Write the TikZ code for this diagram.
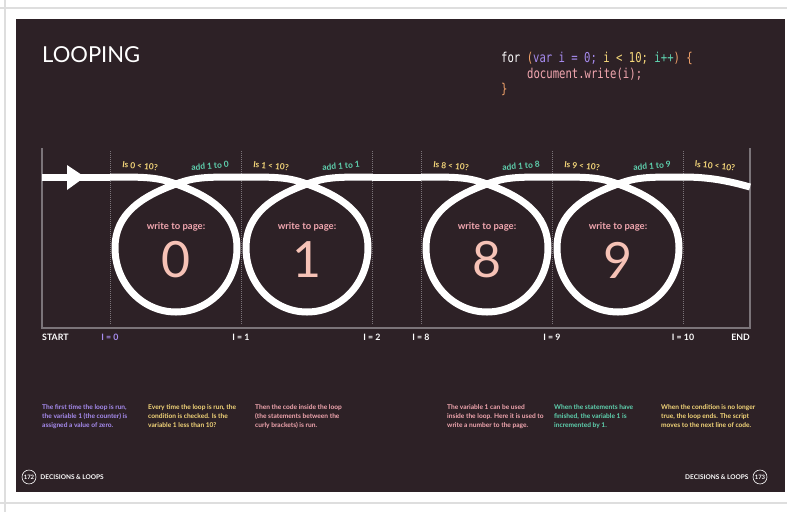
\documentclass[tikz,border=0pt]{standalone}
\usepackage{fontspec}
\setmainfont{Lato}
\setsansfont{Lato}
\setmonofont[FakeStretch=0.78]{DejaVu Sans Mono}
\usepackage{tikz}
\usetikzlibrary{calc}
\usetikzlibrary{positioning}

\definecolor{pagebg}{HTML}{2D2126}
\definecolor{framegray}{HTML}{7B7479}
\definecolor{rulegray}{HTML}{DEDEDE}
\definecolor{lyellow}{HTML}{F5D77A}
\definecolor{lteal}{HTML}{5FD3B0}
\definecolor{lpink}{HTML}{F2A7B0}
\definecolor{lsalmon}{HTML}{F6C2B6}
\definecolor{lpurple}{HTML}{A78CF0}
\definecolor{lorange}{HTML}{F2A36B}

\tikzset{
  looppath/.style={white, line width=7pt},
  tick/.style={framegray, line width=0.9pt, dash pattern=on 1pt off 1pt},
  testlabel/.style={text=lyellow, inner sep=0pt, font=\bfseries\fontsize{8.4}{9}\selectfont},
  addlabel/.style={text=lteal, inner sep=0pt, font=\bfseries\fontsize{8.4}{9}\selectfont},
  pagelabel/.style={text=lpink, inner sep=0pt, anchor=base, font=\bfseries\fontsize{9.5}{10}\selectfont},
  digit/.style={text=lsalmon, inner sep=0pt, font=\fontsize{50}{50}\selectfont},
  counter/.style={text=white, inner sep=0pt, font=\bfseries\fontsize{8.8}{9}\selectfont},
  codeline/.style={anchor=base west, inner sep=0pt, font=\ttfamily\fontsize{13.6}{15}\selectfont},
  note/.style={anchor=north west, align=left, inner sep=0pt, font=\bfseries\fontsize{6.6}{9.2}\selectfont},
  pagenum/.style={circle, draw=white, line width=0.6pt, inner sep=1pt, text=white, font=\bfseries\fontsize{6}{6}\selectfont},
  footer/.style={text=white, inner sep=0pt, font=\bfseries\fontsize{6.5}{7}\selectfont}
}

\begin{document}
\begin{tikzpicture}[x=1pt,y=-1pt]
      \useasboundingbox (0,0) rectangle (787,512);
      \fill [white] (0,0) rectangle (787,512);
      \draw [rulegray, line width=1.5pt] (5,0) -- (5,512);
      \draw [rulegray, line width=1.5pt] (0,8) -- (787,8);
      \draw [rulegray, line width=1.5pt] (0,503) -- (787,503);
      \fill [pagebg] (16,19) rectangle (785,492);

      \node [anchor=base west, inner sep=0pt, text=white, font=\fontsize{22}{24}\selectfont]
      (title) at (42,62) {LOOPING};

      % the for loop
      \node [codeline] (code1) at (501,62)
      {\textcolor{white}{for} \textcolor{lorange}{(}\textcolor{lpurple}{var i = 0;} \textcolor{lyellow}{i < 10;} \textcolor{lteal}{i++}\textcolor{lorange}{) \{}};
      \node [codeline, text=lpink] (code2) at (527,78) {document.write(i);};
      \node [codeline, text=lorange] (code3) at (501,93) {\}};

      \draw [framegray, line width=1.2pt] (42,148) -- (42,328) -- (750,328) -- (750,148);
      \foreach \x in {110,241,372,421,552,683}
        \draw [tick] (\x,151) -- (\x,325);

      \coordinate (in) at (42,177);
      \coordinate (first) at (110,177);
      \draw [looppath] (in) -- (first);
      \fill [white] (67,165) -- (85,177) -- (67,190) -- cycle;
      \draw [looppath] (372,177) -- (421,177);

      \foreach \a in {110,241,421,552} {
        \pgfmathsetmacro\c{\a+66}
        \draw [looppath] (\a,177) .. controls (\a+35,177) and (\c-19,177) .. (\c,184)
          .. controls (\c+33,196) and (\c+61,213) .. (\c+61,248)
          .. controls (\c+61,283) and (\c+34,312) .. (\c,312)
          .. controls (\c-34,312) and (\c-61,283) .. (\c-61,248)
          .. controls (\c-61,213) and (\c-33,196) .. (\c,184)
          .. controls (\c+19,177) and (\a+96,177) .. (\a+131,177);
      }
      \draw [looppath] (683,177) .. controls (712,177) and (732,182) .. (750,187);

      \foreach \a/\n in {110/0,241/1,421/8,552/9} {
        \node [testlabel, rotate=-6] (test\n) at (\a+30,166) {Is \n{} < 10?};
        \node [addlabel, rotate=5] (add\n) at (\a+100,166) {add 1 to \n};
        \node [pagelabel] (write\n) at (\a+66,229) {write to page:};
        \node [digit] (digit\n) at (\a+66,260) {\n};
      }
      \node [testlabel, rotate=-6] (test10) at (715,166) {Is 10 < 10?};

      \node [counter, anchor=west] (start) at (42,337) {START};
      \node [counter, text=lpurple] (count0) at (110,337) {I = 0};
      \foreach \x/\t in {241/1,372/2,421/8,552/9,683/10}
        \node [counter] (count\t) at (\x,337) {I = \t};
      \node [counter, anchor=east] (end) at (750,337) {END};

      \node [note, text=lpurple] (note1) at (42,404)
      {The first time the loop is run,\\the variable 1 (the counter) is\\assigned a value of zero.};
      \node [note, text=lyellow] (note2) at (148,404)
      {Every time the loop is run, the\\condition is checked. Is the\\variable 1 less than 10?};
      \node [note, text=lpink] (note3) at (255,404)
      {Then the code inside the loop\\(the statements between the\\curly brackets) is run.};
      \node [note, text=lpink] (note4) at (447,404)
      {The variable 1 can be used\\inside the loop. Here it is used to\\write a number to the page.};
      \node [note, text=lteal] (note5) at (554,404)
      {When the statements have\\finished, the variable 1 is\\incremented by 1.};
      \node [note, text=lyellow] (note6) at (661,404)
      {When the condition is no longer\\true, the loop ends. The script\\moves to the next line of code.};

      \node [pagenum] (page172) at (29,477) {172};
      \node [footer, right=4pt of page172] (footl) {DECISIONS \& LOOPS};
      \node [pagenum] (page173) at (760,477) {173};
      \node [footer, left=4pt of page173] (footr) {DECISIONS \& LOOPS};
    \end{tikzpicture}
\end{document}
